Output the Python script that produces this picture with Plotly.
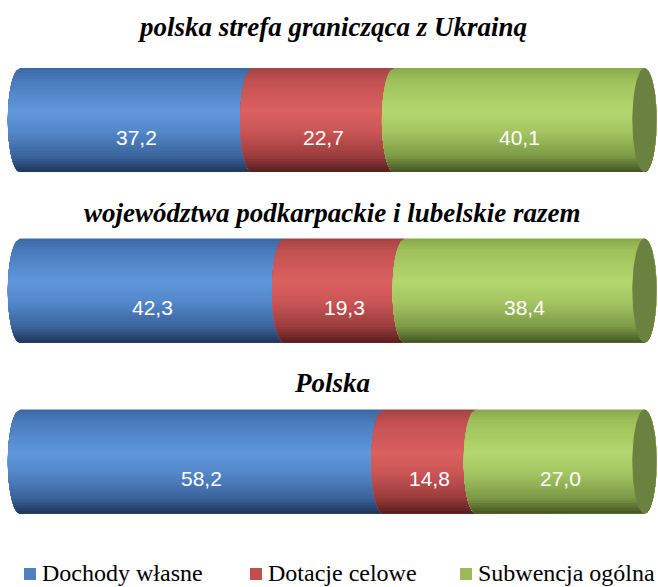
import numpy as np
import plotly.graph_objects as go

# ---- data ----
categories = ["polska strefa granicząca z Ukrainą",
              "województwa podkarpackie i lubelskie razem",
              "Polska"]
series_names = ["Dochody własne", "Dotacje celowe", "Subwencja ogólna"]
dochody_wlasne = [37.2, 42.3, 58.2]
dotacje_celowe = [22.7, 19.3, 14.8]
subwencja_ogolna = [40.1, 38.4, 27.0]
value_labels = [["37,2", "42,3", "58,2"],
                ["22,7", "19,3", "14,8"],
                ["40,1", "38,4", "27,0"]]

# ---- layout / style ----
W, H = 658, 587
bar_centers = [120, 290.5, 461.5]      # y (pixel-like units on the y axis)
title_y = [27, 213, 383]
ry = 52.0                              # half height of a cylinder
px_per_unit = 6.245
x0_px = 20.0
rx = 12.2 / px_per_unit                # ellipse half-width in data units
N_LAYERS = 40
SERIF = "Liberation Serif"
SANS = "Liberation Sans"

# gradient stops (t from top 0 to bottom 1)
profiles = [
    [(0.0, "#3c68a4"), (0.12, "#4a7bbd"), (0.42, "#5f98db"), (0.62, "#5286c8"), (0.85, "#3a639c"), (1.0, "#1f3658")],
    [(0.0, "#a04242"), (0.12, "#c25151"), (0.42, "#dc6060"), (0.62, "#c95555"), (0.85, "#9a3c3c"), (1.0, "#561d1d")],
    [(0.0, "#88a74b"), (0.12, "#9fc15b"), (0.42, "#b4d76f"), (0.62, "#a3c462"), (0.85, "#7d9a45"), (1.0, "#435325")],
]
legend_colors = ["#4f81bd", "#c0504d", "#9bbb59"]
cap_color = "#6a8140"


def hex2rgb(h):
    h = h.lstrip("#")
    return np.array([int(h[i:i + 2], 16) for i in (0, 2, 4)], dtype=float)


def color_at(prof, t):
    for (t0, c0), (t1, c1) in zip(prof[:-1], prof[1:]):
        if t <= t1:
            f = (t - t0) / (t1 - t0) if t1 > t0 else 0
            c = hex2rgb(c0) * (1 - f) + hex2rgb(c1) * f
            return "rgb(%d,%d,%d)" % tuple(np.round(c))
    c = hex2rgb(prof[-1][1])
    return "rgb(%d,%d,%d)" % tuple(c)


def half_w(y, yc):
    v = 1 - ((y - yc) / ry) ** 2
    return rx * np.sqrt(np.clip(v, 0, 1))


values = [dochody_wlasne, dotacje_celowe, subwencja_ogolna]
starts = []
cum = np.zeros(len(categories))
for vals in values:
    starts.append(cum.copy())
    cum = cum + np.array(vals)

fig = go.Figure()

for si, vals in enumerate(values):
    last = si == len(values) - 1
    for k in range(N_LAYERS):
        t = (k + 0.5) / N_LAYERS
        xs, ys = [], []
        for bi, yc in enumerate(bar_centers):
            s = starts[si][bi]
            e = s + vals[bi]
            ya = yc - ry + k * (2 * ry / N_LAYERS)
            yb = yc + ry
            yy = np.linspace(ya, yb, 40)
            lx = s - half_w(yy, yc)
            if last:
                rxs = e + half_w(yy[::-1], yc)
                px = list(lx) + list(rxs)
                py = list(yy) + list(yy[::-1])
            else:
                px = list(lx) + [e, e]
                py = list(yy) + [yb, ya]
            xs += px + [px[0], None]
            ys += py + [py[0], None]
        fig.add_trace(go.Scatter(
            x=xs, y=ys, mode="lines", fill="toself",
            fillcolor=color_at(profiles[si], t),
            line=dict(width=0), hoverinfo="skip", showlegend=False))

# end caps (circular faces at the right end)
cx, cy = [], []
theta = np.linspace(0, 2 * np.pi, 120)
for bi, yc in enumerate(bar_centers):
    e = cum[bi]
    cx += list(e + rx * np.cos(theta)) + [None]
    cy += list(yc + ry * np.sin(theta)) + [None]
fig.add_trace(go.Scatter(x=cx, y=cy, mode="lines", fill="toself",
                         fillcolor=cap_color, line=dict(width=0),
                         hoverinfo="skip", showlegend=False))

annotations = []
# value labels
for si, vals in enumerate(values):
    for bi, yc in enumerate(bar_centers):
        annotations.append(dict(
            x=starts[si][bi] + vals[bi] / 2, y=yc + 17, text=value_labels[si][bi],
            showarrow=False, xanchor="center", yanchor="middle",
            font=dict(family=SANS, size=21, color="white")))

# titles
for bi, cat in enumerate(categories):
    annotations.append(dict(
        x=50, y=title_y[bi], text=cat, showarrow=False,
        xanchor="center", yanchor="middle",
        font=dict(family=SERIF, size=27, color="black", weight="bold", style="italic")))

# legend
legend_x_px = [24, 250, 460]
shapes = []
for i, name in enumerate(series_names):
    shapes.append(dict(type="rect", xref="paper", yref="y",
                       x0=legend_x_px[i] / W, x1=(legend_x_px[i] + 12) / W,
                       y0=568, y1=580, fillcolor=legend_colors[i], line=dict(width=0)))
    annotations.append(dict(
        xref="paper", yref="y", x=(legend_x_px[i] + 16) / W, y=573, text=name,
        showarrow=False, xanchor="left", yanchor="middle",
        font=dict(family=SERIF, size=24, color="black")))

fig.update_layout(
    width=W, height=H, margin=dict(l=0, r=0, t=0, b=0),
    paper_bgcolor="white", plot_bgcolor="white",
    font=dict(family=SERIF),
    xaxis=dict(range=[-x0_px / px_per_unit, (W - x0_px) / px_per_unit],
               visible=False, fixedrange=True),
    yaxis=dict(range=[H, 0], visible=False, fixedrange=True),
    annotations=annotations, shapes=shapes, showlegend=False,
)

fig.write_html("out.html", config={"displayModeBar": False},
               post_script="document.body.style.margin='0';document.body.style.overflow='hidden';")
